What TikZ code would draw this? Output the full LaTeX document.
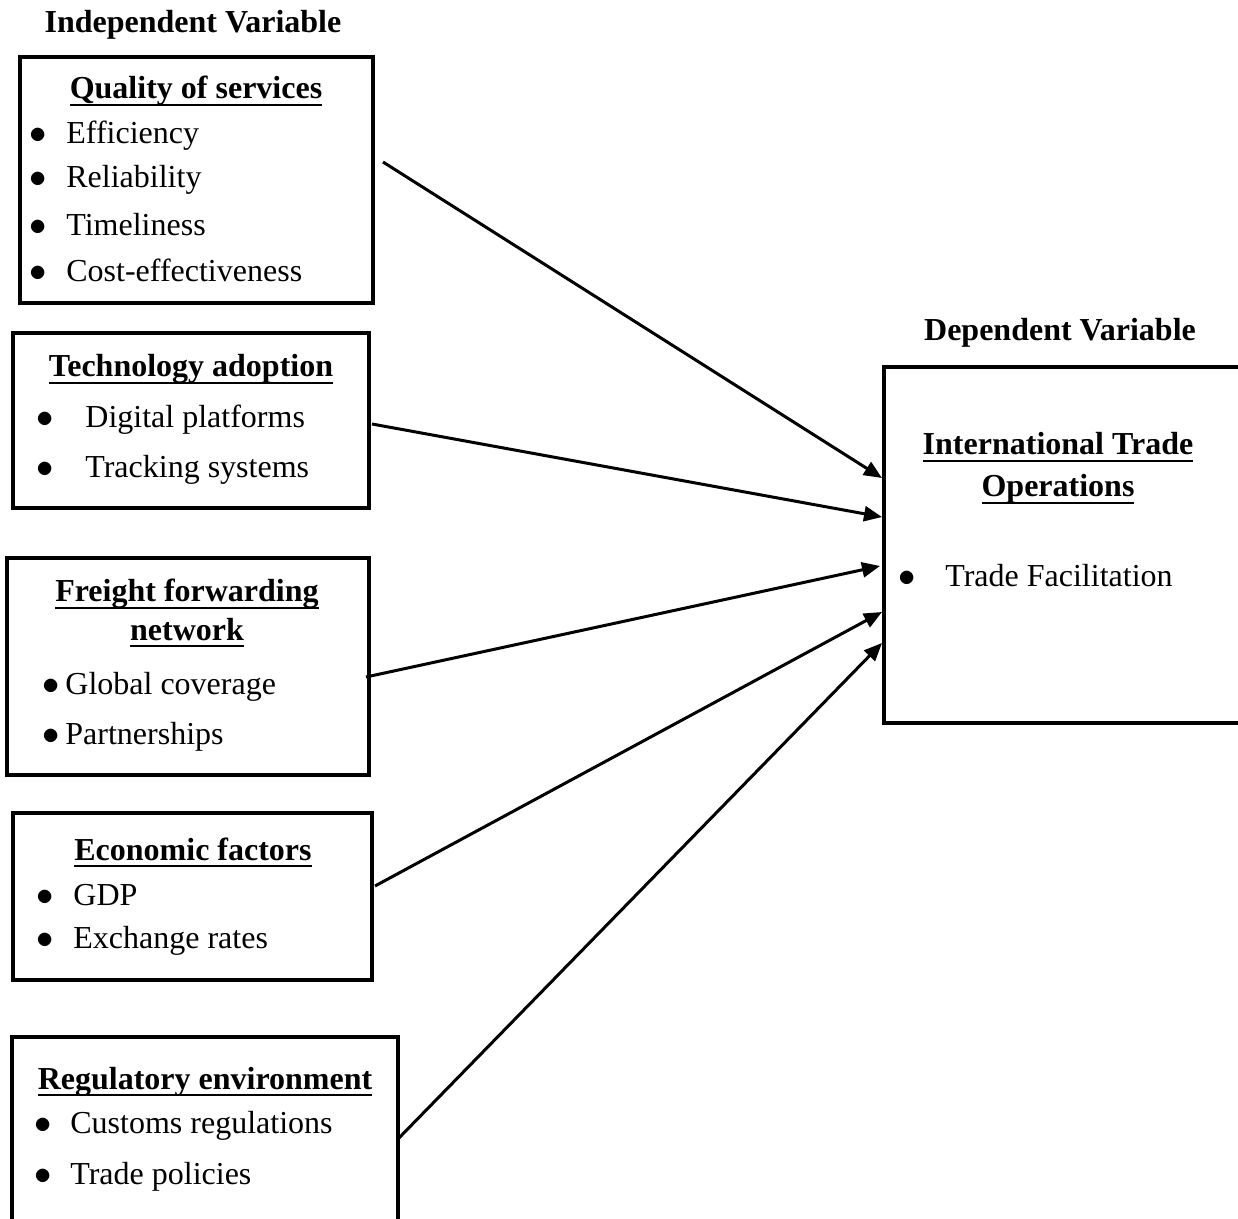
\documentclass[tikz,border=0pt]{standalone}
\usepackage{fontspec}
\setmainfont{Liberation Serif}
\usetikzlibrary{arrows.meta}
\newcommand{\bul}[2]{\makebox[#1][l]{$\bullet$}#2}
\newcommand{\ul}[1]{\setbox0\hbox{#1}\rlap{\copy0}\rule[-3.7pt]{\wd0}{1.4pt}}

\begin{document}
\begin{tikzpicture}[x=0.5pt, y=-0.5pt,
  box/.style={draw, line width=2pt, inner sep=0pt},
  txt/.style={font=\fontsize{16}{19}\selectfont, inner sep=0pt, yshift=-1.5pt},
  head/.style={font=\fontsize{16}{19}\selectfont\bfseries, inner sep=0pt},
  item/.style={txt, anchor=west},
  arr/.style={line width=1.5pt, -{Triangle[length=9pt,width=7.5pt]}}]
\useasboundingbox (0,0) rectangle (1238,1219);

% titles
\node [head, yshift=-1.5pt] (indep) at (193,22) {Independent Variable};
\node [head, yshift=-1.5pt] (depvar) at (1060,330) {Dependent Variable};

% independent boxes
\node [box, minimum width=176.5pt, minimum height=123pt] (qual) at (196.5,180) {};
\node [head, anchor=base] (qualh) at (196,99) {\ul{Quality of services}};
\node [item] (q1) at (29,133) {\bul{18.5pt}{Efficiency}};
\node [item] (q2) at (29,177) {\bul{18.5pt}{Reliability}};
\node [item] (q3) at (29,222) {\bul{18.5pt}{Timeliness}};
\node [item] (q4) at (29,267) {\bul{18.5pt}{Cost-effectiveness}};

\node [box, minimum width=178pt, minimum height=87.5pt] (tech) at (191,420.5) {};
\node [head, anchor=base] (techh) at (191,377) {\ul{Technology adoption}};
\node [item] (t1) at (36,417) {\bul{24.5pt}{Digital platforms}};
\node [item] (t2) at (36,467) {\bul{24.5pt}{Tracking systems}};

\node [box, minimum width=181pt, minimum height=108.5pt] (frei) at (188,666.5) {};
\node [head, anchor=base] (freih1) at (187,602) {\ul{Freight forwarding}};
\node [head, anchor=base] (freih2) at (187,640) {\ul{network}};
\node [item] (f1) at (42,684) {\bul{11.5pt}{Global coverage}};
\node [item] (f2) at (42,734) {\bul{11.5pt}{Partnerships}};

\node [box, minimum width=179.5pt, minimum height=83.5pt] (econ) at (192.5,896.5) {};
\node [head, anchor=base] (econh) at (193,860) {\ul{Economic factors}};
\node [item] (e1) at (36,892) {\bul{18.5pt}{GDP}};
\node [item] (e2) at (36,938) {\bul{18.5pt}{Exchange rates}};

\node [box, minimum width=193pt, minimum height=99pt] (regu) at (205,1136) {};
\node [head, anchor=base] (reguh) at (205,1089) {\ul{Regulatory environment}};
\node [item] (r1) at (34,1123) {\bul{18pt}{Customs regulations}};
\node [item] (r2) at (34,1174) {\bul{18pt}{Trade policies}};

% dependent box
\node [box, minimum width=188pt, minimum height=178pt] (dep) at (1072,545) {};
\node [head, anchor=base] (deph1) at (1058,455) {\ul{International Trade}};
\node [head, anchor=base] (deph2) at (1058,497) {\ul{Operations}};
\node [item] (d1) at (898,573) {\bul{23.5pt}{Trade Facilitation}};

% arrow ends
\coordinate (s1) at (383,162);
\coordinate (s2) at (372,424);
\coordinate (s3) at (366,677);
\coordinate (s4) at (375,886);
\coordinate (s5) at (397,1140);
\coordinate (e1) at (882,478);
\coordinate (e2) at (882,517);
\coordinate (e3) at (880,566);
\coordinate (e4) at (882,612);
\coordinate (e5) at (882,643);

\draw [arr] (s1) -- (e1);
\draw [arr] (s2) -- (e2);
\draw [arr] (s3) -- (e3);
\draw [arr] (s4) -- (e4);
\draw [arr] (s5) -- (e5);
\end{tikzpicture}
\end{document}
